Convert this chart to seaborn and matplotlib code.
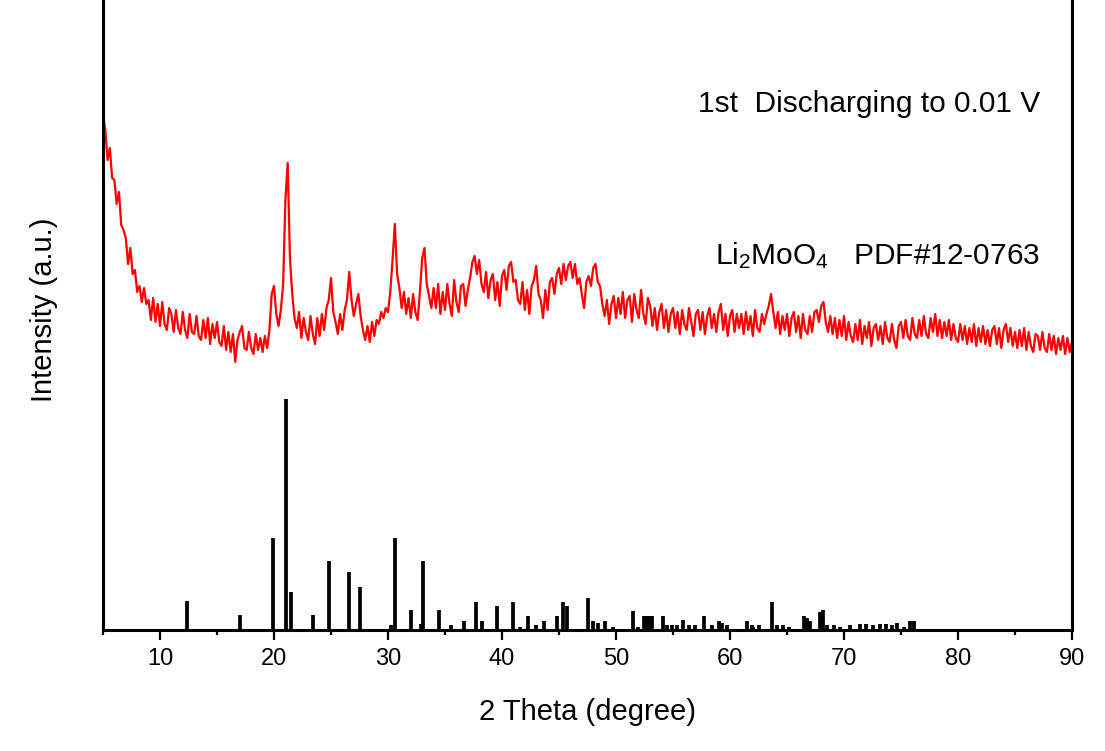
import numpy as np
import pandas as pd
import matplotlib
matplotlib.use("Agg")
import matplotlib.pyplot as plt
import seaborn as sns
from matplotlib.ticker import MultipleLocator

# ---------------- data ----------------
# measured XRD pattern, 2theta from 5 to 90 deg, step 0.2 deg (a.u.)
scan_start, scan_end = 5.0, 90.0
intensity = [
    516, 500, 470, 482, 452, 450, 426, 438, 405, 400,   # 5.0-6.8
    392, 366, 382, 356, 360, 338, 344, 328, 342, 326,   # 7.0-8.8
    330, 310, 332, 308, 326, 304, 328, 306, 300, 322,   # 9.0-10.8
    316, 298, 320, 302, 296, 318, 300, 292, 316, 298,   # 11.0-12.8
    296, 314, 294, 290, 310, 292, 312, 286, 306, 292,   # 13.0-14.8
    308, 288, 284, 304, 280, 298, 278, 296, 268, 290,   # 15.0-16.8
    298, 304, 282, 280, 298, 282, 276, 296, 280, 292,   # 17.0-18.8
    278, 294, 282, 300, 336, 344, 316, 304, 320, 345,   # 19.0-20.8
    430, 467, 372, 336, 312, 302, 318, 292, 312, 298,   # 21.0-22.8
    290, 314, 296, 286, 312, 294, 316, 300, 322, 330,   # 23.0-24.8
    352, 318, 308, 296, 316, 300, 320, 330, 358, 330,   # 25.0-26.8
    314, 326, 336, 314, 300, 290, 304, 288, 308, 294,   # 27.0-28.8
    310, 306, 318, 312, 322, 318, 338, 370, 406, 356,   # 29.0-30.8
    342, 322, 338, 316, 332, 312, 336, 318, 310, 338,   # 31.0-32.8
    372, 382, 346, 334, 322, 342, 322, 346, 316, 338,   # 33.0-34.8
    320, 346, 326, 314, 350, 328, 318, 344, 346, 324,   # 35.0-36.8
    340, 352, 368, 374, 356, 370, 346, 338, 358, 332,   # 37.0-38.8
    350, 356, 330, 348, 324, 354, 360, 340, 364, 368,   # 39.0-40.8
    348, 350, 330, 326, 348, 320, 340, 316, 344, 350,   # 41.0-42.8
    364, 336, 330, 312, 340, 320, 348, 352, 336, 356,   # 43.0-44.8
    362, 346, 366, 350, 364, 368, 352, 366, 346, 352,   # 45.0-46.8
    336, 322, 348, 354, 344, 362, 366, 348, 344, 326,   # 47.0-48.8
    314, 330, 306, 326, 334, 312, 332, 316, 338, 312,   # 49.0-50.8
    330, 334, 308, 336, 320, 312, 340, 316, 306, 332,   # 51.0-52.8
    324, 304, 322, 300, 318, 326, 302, 320, 298, 316,   # 53.0-54.8
    322, 302, 318, 296, 320, 306, 300, 322, 308, 294,   # 55.0-56.8
    316, 320, 300, 318, 296, 314, 322, 302, 316, 298,   # 57.0-58.8
    318, 326, 300, 316, 294, 314, 320, 298, 316, 302,   # 59.0-60.8
    316, 296, 318, 300, 314, 294, 320, 302, 298, 316,   # 61.0-62.8
    306, 316, 324, 336, 318, 302, 318, 296, 314, 300,   # 63.0-64.8
    316, 294, 312, 318, 298, 314, 292, 316, 300, 296,   # 65.0-66.8
    314, 298, 318, 320, 308, 324, 328, 308, 298, 314,   # 67.0-68.8
    296, 312, 292, 310, 294, 314, 290, 308, 294, 288,   # 69.0-70.8
    306, 290, 310, 286, 304, 292, 308, 284, 302, 306,   # 71.0-72.8
    290, 304, 286, 308, 292, 288, 306, 290, 282, 304,   # 73.0-74.8
    308, 292, 310, 294, 290, 312, 296, 292, 310, 294,   # 75.0-76.8
    314, 296, 292, 312, 298, 316, 294, 310, 292, 308,   # 77.0-78.8
    294, 310, 290, 306, 292, 288, 306, 290, 304, 286,   # 79.0-80.8
    302, 288, 306, 284, 302, 288, 304, 286, 300, 284,   # 81.0-82.8
    300, 304, 286, 302, 282, 300, 306, 288, 302, 284,   # 83.0-84.8
    298, 282, 300, 284, 302, 280, 298, 284, 278, 296,   # 85.0-86.8
    294, 280, 298, 282, 278, 296, 280, 294, 276, 292,   # 87.0-88.8
    280, 294, 276, 292, 278, 288,                       # 89.0-90.0
]

# Li2MoO4 reference pattern (PDF#12-0763): positions (deg) and relative intensity (%)
pdf_pos = [12.40, 17.02, 19.94, 21.08, 21.52, 23.45, 24.85, 26.58, 27.54, 30.23,
           30.64, 31.99, 32.87, 33.10, 34.44, 35.50, 36.67, 37.72, 38.22, 39.53,
           40.94, 41.58, 42.31, 42.98, 43.71, 44.80, 45.38, 45.67, 47.51, 47.95,
           48.45, 49.04, 49.71, 51.52, 51.96, 52.46, 52.69, 52.98, 53.20, 54.10,
           54.45, 54.94, 55.32, 55.90, 56.43, 56.93, 57.72, 58.39, 59.00, 59.27,
           59.71, 61.46, 61.90, 62.05, 62.57, 63.66, 64.15, 64.68, 65.20, 66.49,
           66.73, 67.02, 67.90, 68.13, 68.54, 69.12, 69.65, 70.53, 71.40, 71.93,
           72.57, 73.16, 73.68, 74.18, 74.62, 75.26, 75.79, 76.14]
pdf_rel = [12.5, 6.5, 40.0, 100.0, 16.4, 6.5, 30.0, 25.0, 18.5, 2.0,
           40.0, 8.5, 2.5, 30.0, 8.5, 2.0, 4.0, 12.0, 4.0, 10.5,
           12.0, 1.2, 6.0, 2.0, 4.0, 6.0, 12.0, 10.5, 14.0, 4.0,
           3.0, 4.0, 1.2, 8.3, 1.2, 6.0, 6.0, 6.0, 6.0, 6.0,
           2.0, 2.0, 2.0, 4.5, 2.0, 2.0, 6.0, 2.0, 4.0, 3.0,
           2.0, 4.0, 2.0, 1.5, 2.0, 12.0, 2.0, 2.0, 1.5, 6.0,
           5.0, 4.0, 8.0, 8.5, 2.0, 2.0, 1.5, 2.0, 2.5, 2.5,
           2.0, 2.5, 2.5, 2.0, 3.0, 1.5, 4.0, 4.0]
stick_scale = 2.31  # a.u. per percent of the reference pattern

x_ticks = [10, 20, 30, 40, 50, 60, 70, 80, 90]

# ---------------- plot ----------------
sns.set_style("ticks")
plt.rcParams["font.family"] = ["Liberation Sans", "DejaVu Sans"]
plt.rcParams["mathtext.fontset"] = "custom"
plt.rcParams["mathtext.rm"] = "Liberation Sans"
plt.rcParams["mathtext.it"] = "Liberation Sans"
plt.rcParams["text.color"] = "black"
plt.rcParams["axes.labelcolor"] = "black"
plt.rcParams["xtick.color"] = "black"

theta = np.linspace(scan_start, scan_end, len(intensity))
df = pd.DataFrame({"theta": theta, "intensity": intensity})

fig = plt.figure(figsize=(11.05, 7.51), dpi=100)
ax = fig.add_axes([103 / 1105, 121 / 751, 969 / 1105, 640 / 751])

sns.lineplot(data=df, x="theta", y="intensity", color="#ff0000", lw=1.6, ax=ax)
ax.vlines(pdf_pos, 0, np.array(pdf_rel) * stick_scale, color="black", lw=2.7)

ax.set_xlim(5, 90)
ax.set_ylim(0, 640)
ax.spines["top"].set_visible(False)
for s in ["left", "right", "bottom"]:
    ax.spines[s].set_linewidth(2.2)
    ax.spines[s].set_color("black")

ax.set_yticks([])
ax.set_xticks(x_ticks)
ax.xaxis.set_minor_locator(MultipleLocator(5))
ax.tick_params(axis="x", which="major", length=7, width=1.6, direction="out",
               labelsize=17, pad=6, colors="black")
ax.tick_params(axis="x", which="minor", length=3.5, width=1.6, direction="out")

ax.set_xlabel("2 Theta (degree)", fontsize=21, labelpad=20)
ax.set_ylabel("Intensity (a.u.)", fontsize=21)
ax.yaxis.set_label_coords(-0.046, 0.5)

ax.text(87.2, 526, "1st  Discharging to 0.01 V", fontsize=21.5, ha="right", va="center")
ax.text(87.2, 366, r"Li$_\mathrm{2}$MoO$_\mathrm{4}$   PDF#12-0763", fontsize=21.5,
        ha="right", va="baseline")

fig.savefig("out.png", dpi=100)
